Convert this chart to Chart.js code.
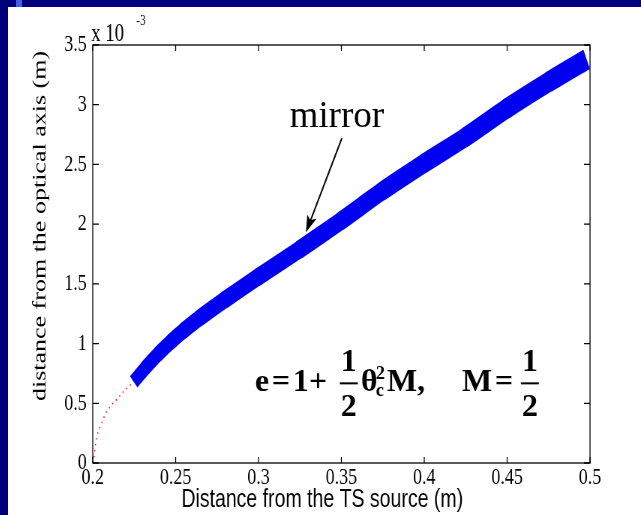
<!DOCTYPE html>
<html>
<head>
<meta charset="utf-8">
<script src="https://cdn.jsdelivr.net/npm/chart.js@4.4.0/dist/chart.umd.min.js"></script>
<style>
  html, body { margin: 0; padding: 0; }
  body { width: 641px; height: 515px; background: #00007e; position: relative; overflow: hidden; }
  #tab { position: absolute; left: 16px; top: 0; width: 6px; height: 7px; background: #4060e0; }
  #sheet { position: absolute; left: 8px; top: 7px; width: 633px; height: 508px; background: #fff; overflow: hidden; }
  #stretch { width: 844px; height: 508px; transform: scaleX(0.75); transform-origin: 0 0; }
</style>
</head>
<body>
<div id="tab"></div>
<div id="sheet"><div id="stretch"><canvas id="chart" width="844" height="508"></canvas></div></div>
<script>
// mirror profile, y in units of 1e-3 m
const mirrorX = [0.2247, 0.232, 0.24, 0.2475, 0.255, 0.265, 0.28, 0.30, 0.325, 0.35, 0.375, 0.40, 0.425, 0.45, 0.475, 0.498];
const mirrorY = [0.68, 0.80, 0.92, 1.02, 1.11, 1.22, 1.37, 1.56, 1.79, 2.03, 2.28, 2.51, 2.73, 2.97, 3.19, 3.38];
// dotted part from the source
const sourceX = [0.2, 0.2006, 0.2012, 0.2018, 0.203, 0.2054, 0.2078, 0.2115, 0.215, 0.218, 0.221, 0.2247];
const sourceY = [0, 0.03, 0.10, 0.17, 0.25, 0.335, 0.42, 0.49, 0.54, 0.59, 0.63, 0.68];
const xTicks = [0.2, 0.25, 0.3, 0.35, 0.4, 0.45, 0.5];
const yTicks = [0, 0.5, 1, 1.5, 2, 2.5, 3, 3.5];

const S = 0.75; // the figure is squeezed horizontally
const serif = 'Liberation Serif';

const frame = {
  id: 'frame',
  afterDraw(chart) {
    const { ctx, chartArea: a, scales: { x, y } } = chart;
    ctx.save();
    ctx.strokeStyle = '#000';
    ctx.lineWidth = 1.3;
    ctx.strokeRect(a.left, a.top, a.right - a.left, a.bottom - a.top);
    ctx.beginPath();
    xTicks.forEach(v => {
      const px = x.getPixelForValue(v);
      ctx.moveTo(px, a.bottom); ctx.lineTo(px, a.bottom - 6);
      ctx.moveTo(px, a.top); ctx.lineTo(px, a.top + 6);
    });
    yTicks.forEach(v => {
      const py = y.getPixelForValue(v);
      ctx.moveTo(a.left, py); ctx.lineTo(a.left + 8, py);
      ctx.moveTo(a.right, py); ctx.lineTo(a.right - 8, py);
    });
    ctx.stroke();

    // exponent label
    ctx.fillStyle = '#000';
    ctx.textAlign = 'left';
    ctx.textBaseline = 'alphabetic';
    ctx.font = '25px "' + serif + '"';
    ctx.fillText('x 10', a.left - 2, a.top - 4);
    ctx.font = '15px "' + serif + '"';
    ctx.fillText('-3', a.left + 58, a.top - 20);

    // axis titles
    ctx.font = '26px "' + serif + '"';
    ctx.textAlign = 'center';
    ctx.textBaseline = 'middle';
    ctx.save();
    ctx.translate(43, 219);
    ctx.rotate(-Math.PI / 2);
    ctx.fillText('distance from the optical axis (m)', 0, 0);
    ctx.restore();
    ctx.font = '26px "Liberation Sans"';
    ctx.fillText('Distance from the TS source (m)', 419, 493);

    // overlays that are not squeezed
    ctx.scale(1 / S, 1);
    const U = v => x.getPixelForValue(v) * S;
    const V = v => y.getPixelForValue(v);

    ctx.textBaseline = 'alphabetic';
    ctx.font = '37px "' + serif + '"';
    ctx.fillText('mirror', U(0.3473), V(2.81));

    const x0 = U(0.3503), y0 = V(2.72), x1 = U(0.3286), y1 = V(1.93);
    const ang = Math.atan2(y1 - y0, x1 - x0);
    ctx.lineWidth = 1.5;
    ctx.beginPath();
    ctx.moveTo(x0, y0);
    ctx.lineTo(x1 - 10 * Math.cos(ang), y1 - 10 * Math.sin(ang));
    ctx.stroke();
    ctx.beginPath();
    ctx.moveTo(x1, y1);
    ctx.lineTo(x1 - 17 * Math.cos(ang) + 5 * Math.sin(ang), y1 - 17 * Math.sin(ang) - 5 * Math.cos(ang));
    ctx.lineTo(x1 - 13 * Math.cos(ang), y1 - 13 * Math.sin(ang));
    ctx.lineTo(x1 - 17 * Math.cos(ang) - 5 * Math.sin(ang), y1 - 17 * Math.sin(ang) + 5 * Math.cos(ang));
    ctx.closePath();
    ctx.fill();

    // formula
    const fx = U(0.2978), fy = V(0.6);
    const big = 'bold 32px "' + serif + '"';
    const small = 'bold 18px "' + serif + '"';
    ctx.textAlign = 'left';
    ctx.font = big;
    ctx.fillText('e', fx, fy);
    ctx.fillText('=', fx + 17, fy);
    ctx.fillText('1', fx + 38, fy);
    ctx.fillText('+', fx + 54, fy);
    ctx.fillText('\u03b8', fx + 106, fy);
    ctx.fillText('M,', fx + 132, fy);
    ctx.fillText('M', fx + 207, fy);
    ctx.fillText('=', fx + 240, fy);
    ctx.font = small;
    ctx.fillText('2', fx + 121, fy - 12);
    ctx.fillText('c', fx + 121, fy + 5);
    ctx.font = big;
    ctx.textAlign = 'center';
    [94, 275].forEach(c => {
      ctx.fillText('1', fx + c, fy - 20);
      ctx.fillText('2', fx + c, fy + 25);
      ctx.fillRect(fx + c - 9, fy - 9, 18, 2);
    });
    ctx.restore();
  }
};

const last = mirrorX.length - 1;
const ramp = (a, b) => ctx => a + (b - a) * ctx.p0DataIndex / (last - 1);
// inner pieces get round caps so the joints close; the two ends stay flat
const caps = ctx => (ctx.p0DataIndex === 0 || ctx.p1DataIndex === last) ? 'butt' : 'round';

new Chart(document.getElementById('chart'), {
  type: 'line',
  data: {
    datasets: [
      {
        data: sourceX.map((v, i) => ({ x: v, y: sourceY[i] })),
        borderColor: '#ff1010',
        borderWidth: 1.5,
        borderDash: [1.5, 4.5],
        pointRadius: 0,
        tension: 0
      },
      {
        data: mirrorX.map((v, i) => ({ x: v, y: mirrorY[i] })),
        borderColor: '#0000f0',
        borderWidth: 15,
        borderJoinStyle: 'round',
        segment: { borderWidth: ramp(15, 21), borderCapStyle: caps },
        pointRadius: 0,
        tension: 0.3,
        clip: false
      }
    ]
  },
  options: {
    responsive: false,
    animation: false,
    events: [],
    layout: { padding: { top: 38, right: 68, bottom: 0, left: 0 } },
    plugins: { legend: { display: false }, tooltip: { enabled: false } },
    scales: {
      x: {
        type: 'linear',
        min: 0.2, max: 0.5,
        afterBuildTicks: s => { s.ticks = xTicks.map(v => ({ value: v })); },
        afterFit: s => { s.height = 52; },
        grid: { display: false, drawTicks: false },
        border: { display: false },
        ticks: {
          padding: 0,
          color: '#000',
          maxRotation: 0,
          font: { family: serif, size: 24 },
          callback: v => String(Math.round(v * 100) / 100)
        }
      },
      y: {
        type: 'linear',
        min: 0, max: 3.5,
        afterBuildTicks: s => { s.ticks = yTicks.map(v => ({ value: v })); },
        afterFit: s => { s.width = 113; },
        grid: { display: false, drawTicks: false },
        border: { display: false },
        ticks: {
          padding: 8,
          color: '#000',
          font: { family: serif, size: 24 },
          callback: v => String(v)
        }
      }
    }
  },
  plugins: [frame]
});
</script>
</body>
</html>
